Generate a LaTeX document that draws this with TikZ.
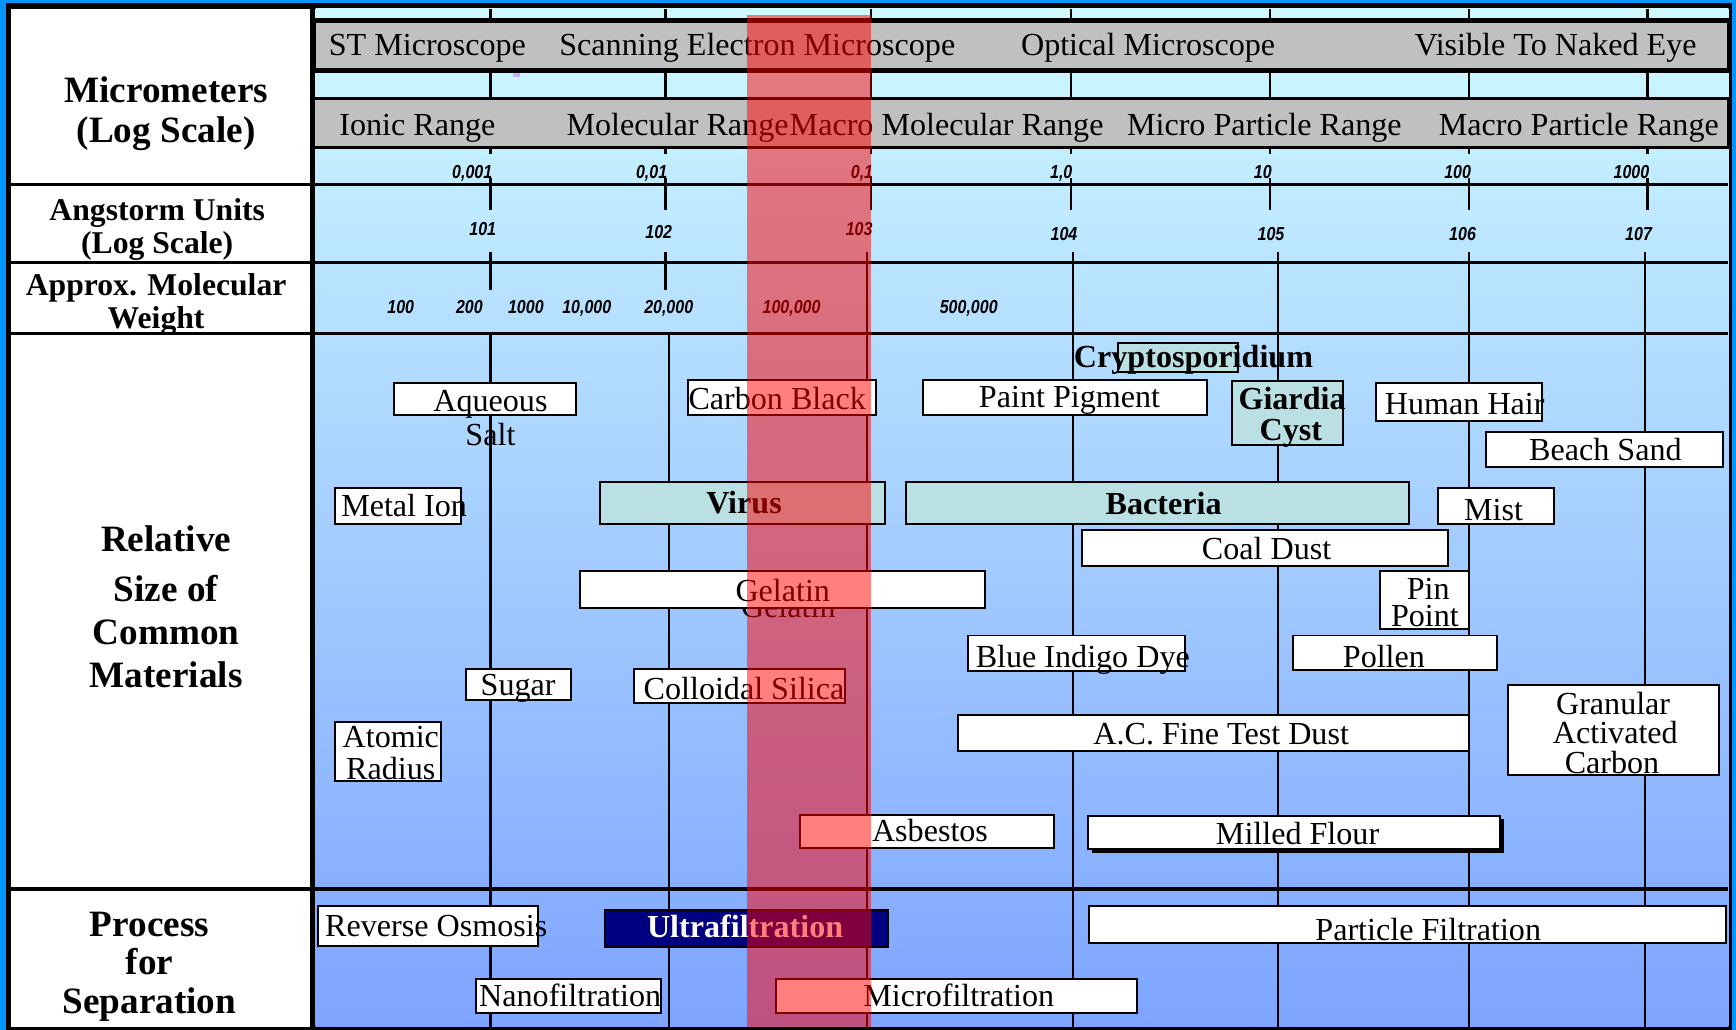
\documentclass[tikz,border=0pt]{standalone}
\usepackage{fontspec}
\setmainfont{Liberation Serif}
\setsansfont{Liberation Sans}
\newfontfamily\numfont[FakeStretch=0.85]{Liberation Sans}
\definecolor{frameblue}{RGB}{0,150,255}
\definecolor{bandgray}{RGB}{192,192,192}
\definecolor{tealfill}{RGB}{186,224,228}
\definecolor{navyfill}{RGB}{0,0,128}
\definecolor{topcyan}{RGB}{206,250,255}
\definecolor{botblue}{RGB}{126,164,255}
\definecolor{markpurple}{RGB}{200,170,255}

\begin{document}
\begin{tikzpicture}[
    x=0.5pt, y=-0.5pt,
    every node/.style={inner sep=0pt, text height=9.5pt, text depth=0pt,
        font=\fontsize{14.5}{16}\selectfont},
    matbox/.style={draw=black, fill=white, line width=0.9pt},
    tealbox/.style={draw=black, fill=tealfill, line width=0.9pt},
    grayband/.style={draw=black, fill=bandgray},
    rowline/.style={line width=1.4pt},
    gridline/.style={line width=1pt},
    sidelbl/.style={text height=, text depth=, align=center},
    bigside/.style={sidelbl, font=\fontsize{16.8}{18}\selectfont\bfseries},
    smallside/.style={sidelbl, font=\fontsize{14.3}{15}\selectfont\bfseries},
    num/.style={text height=6pt, font=\fontsize{8.5}{9}\selectfont\numfont\bfseries\itshape},
    boldtxt/.style={font=\fontsize{14.5}{16}\selectfont\bfseries}
]
\useasboundingbox (0,0) rectangle (1568,930);

% frame and background
\fill[frameblue] (0,0) rectangle (1568,930);
\fill[black] (5.4,2.4) rectangle (1564.5,930);
\fill[white] (9.6,8.1) rectangle (280,927.5);
\shade[top color=topcyan, bottom color=botblue] (285,8.1) rectangle (1561,927.5);
\draw[line width=2.3pt] (282.5,3) -- (282.5,930);

% scale ticks
\foreach \x in {443,601,787,967,1147,1327,1488} {
    \draw[gridline] (\x,8) -- (\x,20);
    \draw[gridline] (\x,63) -- (\x,88);
    \draw[gridline] (\x,133) -- (\x,139);
    \draw[gridline] (\x,161) -- (\x,190);
}
\draw[gridline] (443,228) -- (443,262);
\draw[gridline] (601,228) -- (601,262);
\draw[gridline] (443,301) -- (443,928);
\draw[gridline] (604,301) -- (604,928);
\foreach \x in {783,969,1154,1327,1486}
    \draw[gridline] (\x,228) -- (\x,928);

% rows
\foreach \y in {167,237,301,803}
    \draw[rowline] (9,\y) -- (1561,\y);

% microscope and range bands
\draw[grayband, line width=2.25pt] (283,18.75) rectangle (1562,63.75);
\draw[grayband, line width=1.75pt] (283,89) rectangle (1562,133.25);
\fill[markpurple] (463,66) rectangle (470,69.5);
\node (stm) at (386,41) {ST Microscope};
\node (sem) at (684,41) {Scanning Electron Microscope};
\node (optical) at (1037,41) {Optical Microscope};
\node (naked) at (1405,41) {Visible To Naked Eye};
\node (ionic) at (377,113) {Ionic Range};
\node (molecular) at (612,113) {Molecular Range};
\node (macromol) at (855,113) {Macro Molecular Range};
\node (microp) at (1142,113) {Micro Particle Range};
\node (macrop) at (1426,113) {Macro Particle Range};

% scale numbers
\foreach \x/\t in {443/{0,001}, 601/{0,01}, 787/{0,1}, 967/{1,0}, 1147/{10}, 1327/{100}, 1488/{1000}}
    \node[num, anchor=east] (um\x) at (\x+2,155) {\t};
\foreach \x/\y/\t in {436/207/101, 595/209/102, 776/207/103, 961/211/104, 1148/211/105, 1321/211/106, 1480/211/107}
    \node[num] (ang\t) at (\x,\y) {\t};
\foreach \x/\t in {362/{100}, 424/{200}, 475/{1000}, 530/{10,000}, 604/{20,000}, 715/{100,000}, 875/{500,000}}
    \node[num] (mw\x) at (\x,277) {\t};

% side labels
\node[bigside] (micro) at (150,103) {Micrometers\\(Log Scale)};
\node[smallside] (angstrom) at (142,207) {Angstorm Units\\(Log Scale)};
\node[smallside] (weight) at (141,275) {Approx. Molecular\\Weight};
\node[bigside, font=\fontsize{16.8}{19.5}\selectfont\bfseries] (relative) at (150,548) {Relative\\[3pt]Size of\\Common\\Materials};
\node[bigside, font=\fontsize{16.8}{17.5}\selectfont\bfseries] (process) at (135,873) {Process\\for\\Separation};

% common materials
\draw[matbox] (356,346) rectangle (520,375);
\node (aqueous) at (443,362) {Aqueous};
\node (salt) at (443,393) {Salt};
\draw[matbox] (621,343) rectangle (791,375);
\node (carbon) at (702,360) {Carbon Black};
\draw[matbox] (834,343) rectangle (1090,375);
\node (paint) at (966,359) {Paint Pigment};
\draw[tealbox] (1010,310) rectangle (1118,336);
\node[boldtxt] (crypto) at (1078,322) {Cryptosporidium};
\draw[tealbox] (1113,344) rectangle (1213,402);
\node[boldtxt] (giardia) at (1167,360) {Giardia};
\node[boldtxt] (cyst) at (1166,388) {Cyst};
\draw[matbox] (1243,346) rectangle (1393,380);
\node (hair) at (1323,365) {Human Hair};
\draw[matbox] (1342,390) rectangle (1556,422);
\node (sand) at (1450,406) {Beach Sand};
\draw[matbox] (303,441) rectangle (416,473);
\node (metal) at (365,457) {Metal Ion};
\draw[tealbox] (542,435) rectangle (799,473);
\node[boldtxt] (virus) at (672,454) {Virus};
\draw[tealbox] (818,435) rectangle (1273,473);
\node[boldtxt] (bacteria) at (1051,455) {Bacteria};
\draw[matbox] (1299,441) rectangle (1404,473);
\node (mist) at (1349,461) {Mist};
\draw[matbox] (977,479) rectangle (1308,511);
\node (coal) at (1144,496) {Coal Dust};
\node (gelghost) at (712,548) {Gelatin};
\draw[matbox] (524,516) rectangle (890,549);
\node (gelatin) at (707,534) {Gelatin};
\draw[matbox] (1246,516) rectangle (1327,568);
\node (pin) at (1290,532) {Pin};
\node (point) at (1287,556) {Point};
\draw[matbox] (874,574) rectangle (1070,606);
\node (indigo) at (978,593) {Blue Indigo Dye};
\draw[matbox] (1168,574) rectangle (1352,605);
\node (pollen) at (1250,593) {Pollen};
\draw[matbox] (421,604) rectangle (516,632);
\node (sugar) at (468,619) {Sugar};
\draw[matbox] (573,604) rectangle (763,635);
\node (silica) at (672,622) {Colloidal Silica};
\draw[matbox] (1362,619) rectangle (1553,700);
\node (granular) at (1457,636) {Granular};
\node (activated) at (1459,662) {Activated};
\node (gacarbon) at (1456,689) {Carbon};
\draw[matbox] (303,652) rectangle (398,705);
\node (atomic) at (353,666) {Atomic};
\node (radius) at (353,695) {Radius};
\draw[matbox] (865,646) rectangle (1327,678);
\node (acdust) at (1103,663) {A.C. Fine Test Dust};
\draw[matbox] (723,736) rectangle (952,766);
\node (asbestos) at (840,751) {Asbestos};
\fill[black] (986,740) rectangle (1358,770);
\draw[matbox] (983,737) rectangle (1355,767);
\node (flour) at (1172,753) {Milled Flour};

% separation processes
\draw[matbox] (287,818) rectangle (486,854);
\node (reverse) at (394,836) {Reverse Osmosis};
\draw[draw=black, fill=navyfill, line width=0.9pt] (546,822) rectangle (802,855);
\node[boldtxt, text=white] (ultra) at (673,837) {Ultrafiltration};
\draw[matbox] (984,818) rectangle (1559,852);
\node (particle) at (1290,840) {Particle Filtration};
\draw[matbox] (430,884) rectangle (597,915);
\node (nano) at (515,900) {Nanofiltration};
\draw[matbox] (701,884) rectangle (1027,915);
\node (microf) at (866,900) {Microfiltration};

% highlighted band
\fill[red, opacity=0.5] (675,13.5) rectangle (787,927.5);

\end{tikzpicture}
\end{document}
